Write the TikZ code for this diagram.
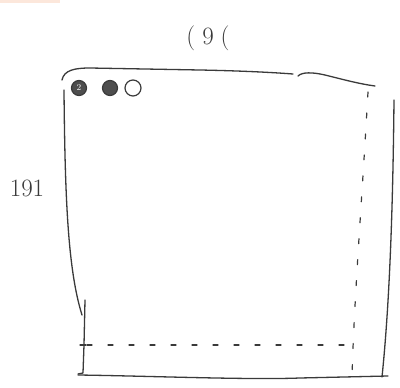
\documentclass[tikz,border=0pt]{standalone}
\usetikzlibrary{calc}
\definecolor{ink}{HTML}{3A3A3A}
\definecolor{smudge}{HTML}{F2A070}
\begin{document}
\begin{tikzpicture}[x=1pt,y=-1pt,
  pen/.style={draw=ink,line width=1.3pt,line cap=round,line join=round},
  dashpen/.style={draw=ink,line width=1.2pt,line cap=round,dash pattern=on 5pt off 16pt},
  dot/.style={circle,draw=ink,line width=1.2pt,minimum size=15pt,inner sep=0pt},
  filleddot/.style={dot,fill=ink!90},
  lbl/.style={text=ink,font=\fontsize{25}{28}\selectfont}]
\useasboundingbox (0,0) rectangle (400,388);
\fill[smudge,opacity=0.25] (0,0) rectangle (60,3);
% labels
\node[lbl] (top) at (208,38) {(\hspace{7pt}9\hspace{7pt}(};
\node[lbl] (left) at (27,188) {191};
% top edge
\draw[pen] (62,80) .. controls (64,70) and (75,68) .. (90,68) -- (200,70) .. controls (250,71) and (280,73) .. (293,74);
\draw[pen] (298,76) .. controls (302,72) and (312,72) .. (325,75) .. controls (345,80) and (360,84) .. (375,86);
% left edge
\draw[pen] (64,90) .. controls (65,200) and (68,270) .. (82,315);
\draw[pen] (85,300) -- (84,345) -- (83,373) -- (78,374);
\draw[pen] (80,345) -- (86,345);
% bottom edge
\draw[pen] (78,375) .. controls (150,376) and (250,380) .. (300,378) -- (388,376);
% right edge
\draw[pen] (394,100) .. controls (393,200) and (390,300) .. (382,377);
% dashed lines
\draw[dashpen] (368,92) .. controls (362,200) and (354,300) .. (352,378);
\draw[dashpen] (87,345) -- (355,345);
% circles
\node[filleddot] (c1) at (79,88) {\textcolor{white}{\small 2}};
\node[filleddot] (c2) at (110,88) {};
\node[dot,minimum width=12pt,minimum height=16pt] (c3) at (133,88) {};
\end{tikzpicture}
\end{document}
